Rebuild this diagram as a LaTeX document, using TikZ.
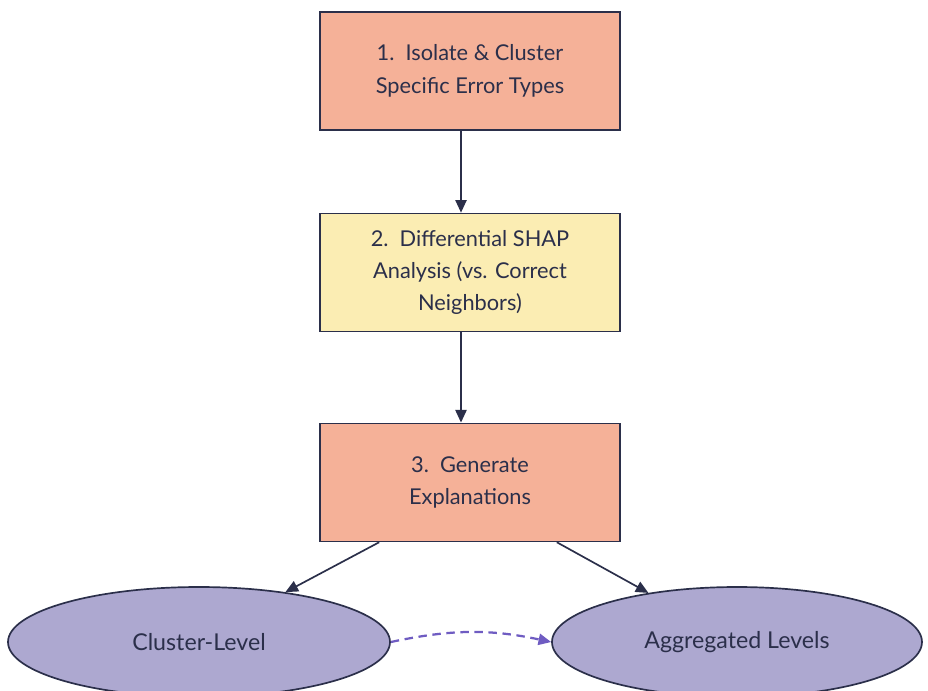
\documentclass[tikz,border=0pt]{standalone}
\usepackage{fontspec}
\setmainfont{Lato}
\usepackage{tikz}
\usetikzlibrary{shapes.geometric,arrows.meta}

\definecolor{navy}{HTML}{2B2F4A}
\definecolor{salmon}{HTML}{F5B198}
\definecolor{cream}{HTML}{FBEDB3}
\definecolor{lavender}{HTML}{ADA8D0}
\definecolor{dashpurple}{HTML}{6F5CC2}

\tikzset{
	stepbox/.style={shape=rectangle,draw=navy,line width=1.2pt,text=navy,
		minimum width=7.5cm,minimum height=2.95cm,align=center,font=\fontsize{15.5}{23}\selectfont},
	levelnode/.style={shape=ellipse,draw=navy,line width=1.2pt,fill=lavender,text=navy,
		minimum height=2.75cm,font=\fontsize{16.5}{20}\selectfont},
	flow/.style={draw=navy,line width=1.2pt,-{Triangle[width=8pt,length=9pt]}}
}

\begin{document}
\begin{tikzpicture}
	\useasboundingbox (0,0) rectangle (23.2,-17.25);

	\node[stepbox,fill=salmon] (isolate) at (11.75, -1.775) {1.\ \ Isolate \& Cluster\\Specific Error Types};
	\node[stepbox,fill=cream] (shap) at (11.75, -6.8125) {2.\ \ Differential SHAP\\Analysis (vs. Correct\\Neighbors)};
	\node[stepbox,fill=salmon] (explain) at (11.75, -12.06) {3.\ \ Generate\\Explanations};
	\node[levelnode,minimum width=9.55cm] (cluster) at (4.975, -16.05) {Cluster-Level};
	\node[levelnode,minimum width=9.25cm] (aggregated) at (18.425, -16.05) {Aggregated Levels};

	\draw[flow] ([xshift=-0.225cm]isolate.south) -- ([xshift=-0.225cm]shap.north);
	\draw[flow] ([xshift=-0.225cm]shap.south) -- ([xshift=-0.225cm]explain.north);
	\draw[flow] ([xshift=1.5cm]explain.south west) -- (cluster.30);
	\draw[flow] ([xshift=-1.6cm]explain.south east) -- (aggregated.151);
	\draw[dashpurple,line width=1.6pt,dash pattern=on 6pt off 4pt,-{Triangle[width=8pt,length=9pt]}] (cluster.east) to [bend left=12] (aggregated.west);

\end{tikzpicture}
\end{document}
